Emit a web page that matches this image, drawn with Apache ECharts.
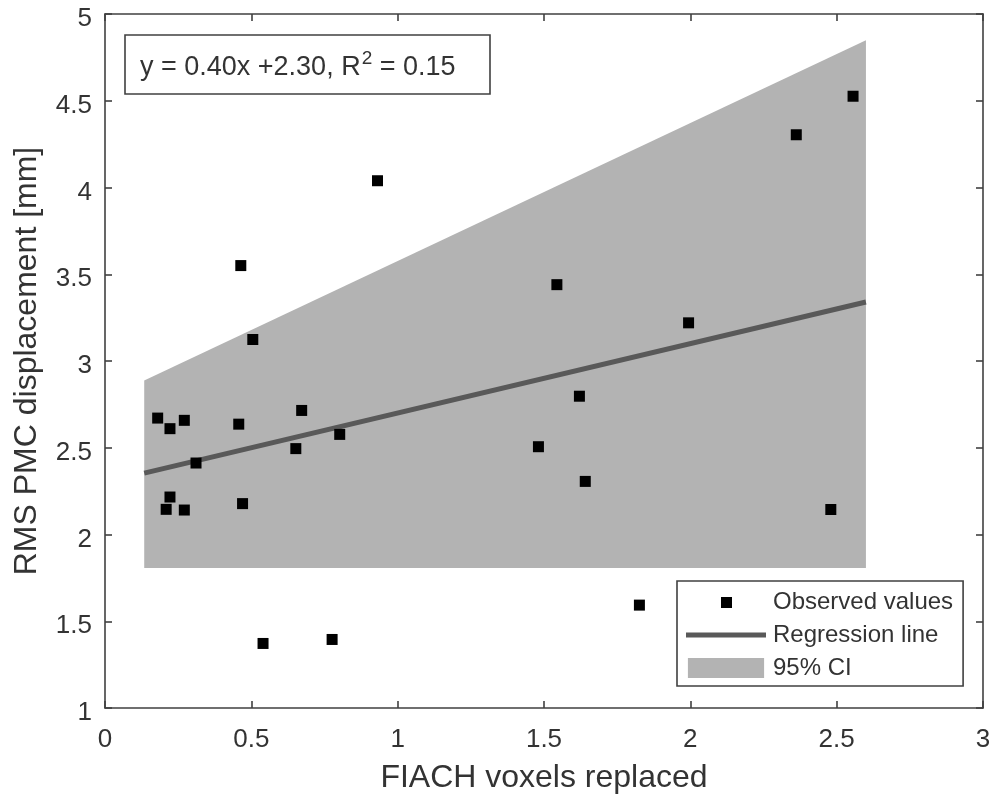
<!DOCTYPE html>
<html>
<head>
<meta charset="utf-8">
<script src="https://cdn.jsdelivr.net/npm/echarts@6/dist/echarts.min.js"></script>
<style>
  html, body { margin: 0; padding: 0; background: #ffffff; }
  #chart { width: 1006px; height: 800px; }
</style>
</head>
<body>
<div id="chart"></div>
<script>
// Observed FIACH voxels replaced vs. RMS PMC displacement
const voxelsReplaced = [
  0.180, 0.222, 0.271, 0.311, 0.222, 0.209, 0.271, 0.457, 0.470, 0.672,
  0.652, 0.802, 0.464, 0.505, 0.931, 0.540, 0.776, 1.544, 1.994, 1.621,
  1.481, 1.641, 2.480, 2.556, 2.362, 1.826
];
const rmsDisplacement = [
  2.671, 2.610, 2.658, 2.412, 2.216, 2.145, 2.141, 2.636, 2.178, 2.715,
  2.495, 2.577, 3.550, 3.124, 4.039, 1.372, 1.395, 3.440, 3.220, 2.797,
  2.506, 2.306, 2.144, 4.526, 4.304, 1.593
];

// Linear fit: y = slope * x + intercept
const slope = 0.40;
const intercept = 2.30;
const rSquared = 0.15;
const fitRange = [0.134, 2.600];

// 95% confidence band (x extent, lower edge, upper edge)
const ciX = [0.134, 2.600];
const ciLower = [1.807, 1.807];
const ciUpper = [2.888, 4.849];

const xTicks = [0, 0.5, 1, 1.5, 2, 2.5, 3];
const yTicks = [1, 1.5, 2, 2.5, 3, 3.5, 4, 4.5, 5];

const FONT = 'Liberation Sans, Arial, Helvetica, sans-serif';
const TEXT = '#333333';
const AXIS = '#404040';

const scatterData = voxelsReplaced.map((x, i) => [x, rmsDisplacement[i]]);
const fitData = fitRange.map(x => [x, slope * x + intercept]);
const ciData = [[ciX[0], ciLower[0], ciUpper[0]], [ciX[1], ciLower[1], ciUpper[1]]];

const axisCommon = {
  axisLine: { show: true, onZero: false, lineStyle: { color: AXIS, width: 1.6 } },
  axisTick: { show: true, inside: true, length: 7, lineStyle: { color: AXIS, width: 1.6 } },
  splitLine: { show: false }
};

const chart = echarts.init(document.getElementById('chart'), null, { renderer: 'canvas' });

chart.setOption({
  animation: false,
  backgroundColor: '#ffffff',
  textStyle: { fontFamily: FONT },
  grid: { left: 105, right: 23, top: 14, bottom: 92, containLabel: false },
  title: {
    text: '{t|y = ' + slope.toFixed(2) + 'x +' + intercept.toFixed(2) + ', R}{s|2}{t| = ' + rSquared.toFixed(2) + '}',
    left: 125,
    top: 35,
    padding: [14, 35, 13, 15],
    borderColor: AXIS,
    borderWidth: 1.6,
    textStyle: {
      fontWeight: 'normal',
      rich: {
        t: { fontFamily: FONT, fontSize: 27, fontWeight: 'normal', color: TEXT, verticalAlign: 'bottom', lineHeight: 32 },
        s: { fontFamily: FONT, fontSize: 19, fontWeight: 'normal', color: TEXT, verticalAlign: 'top', lineHeight: 32, padding: [0, 0, 12, 1] }
      }
    }
  },
  legend: {
    orient: 'vertical',
    left: 677,
    top: 581,
    padding: [7, 10, 4, 9],
    itemGap: 5,
    itemWidth: 80,
    itemHeight: 20,
    borderColor: AXIS,
    borderWidth: 1.6,
    backgroundColor: '#ffffff',
    textStyle: { fontFamily: FONT, fontSize: 24, color: TEXT, padding: [0, 0, 0, 2], lineHeight: 28 },
    data: [
      { name: 'Observed values', icon: 'path://M0,0L0,0M80,20L80,20M35,5h11v11h-11z' },
      { name: 'Regression line', icon: 'path://M0,0L0,0M80,20L80,20M0,7.5h80v5h-80z' },
      { name: '95% CI', icon: 'path://M0,0h80v21h-80z' }
    ]
  },
  xAxis: [
    Object.assign({
      type: 'value', position: 'bottom', min: 0, max: 3, interval: 0.5,
      name: 'FIACH voxels replaced', nameLocation: 'middle', nameGap: 54,
      nameTextStyle: { fontFamily: FONT, fontSize: 32, color: TEXT },
      axisLabel: {
        margin: 19, fontFamily: FONT, fontSize: 26, color: TEXT,
        formatter: v => (xTicks.indexOf(v) >= 0 ? String(v) : '')
      }
    }, axisCommon),
    Object.assign({
      type: 'value', position: 'top', min: 0, max: 3, interval: 0.5,
      axisLabel: { show: false }
    }, axisCommon)
  ],
  yAxis: [
    Object.assign({
      type: 'value', position: 'left', min: 1, max: 5, interval: 0.5,
      name: 'RMS PMC displacement [mm]', nameLocation: 'middle', nameGap: 62,
      nameTextStyle: { fontFamily: FONT, fontSize: 32, color: TEXT },
      axisLabel: {
        margin: 13, color: TEXT,
        formatter: v => (yTicks.indexOf(v) >= 0 ? '{v|' + v + '}' : ''),
        rich: {
          v: { fontFamily: FONT, fontSize: 26, color: TEXT, padding: [10, 0, 0, 0] }
        }
      }
    }, axisCommon),
    Object.assign({
      type: 'value', position: 'right', min: 1, max: 5, interval: 0.5,
      axisLabel: { show: false }
    }, axisCommon)
  ],
  series: [
    {
      name: '95% CI',
      type: 'custom',
      z: 1,
      itemStyle: { color: '#b3b3b3' },
      data: ciData,
      renderItem: function (params, api) {
        if (params.dataIndex !== 0) return null;
        const pts = [];
        for (let i = 0; i < ciData.length; i++) pts.push(api.coord([ciData[i][0], ciData[i][2]]));
        for (let i = ciData.length - 1; i >= 0; i--) pts.push(api.coord([ciData[i][0], ciData[i][1]]));
        return {
          type: 'polygon',
          shape: { points: pts },
          style: { fill: '#b3b3b3' }
        };
      },
      encode: { x: 0, y: [1, 2] },
      silent: true
    },
    {
      name: 'Regression line',
      type: 'line',
      z: 2,
      data: fitData,
      showSymbol: false,
      symbol: 'none',
      lineStyle: { color: '#595959', width: 5 },
      itemStyle: { color: '#595959' }
    },
    {
      name: 'Observed values',
      type: 'scatter',
      z: 3,
      data: scatterData,
      symbol: 'rect',
      symbolSize: 11,
      itemStyle: { color: '#000000', opacity: 1 }
    }
  ]
});
</script>
</body>
</html>
